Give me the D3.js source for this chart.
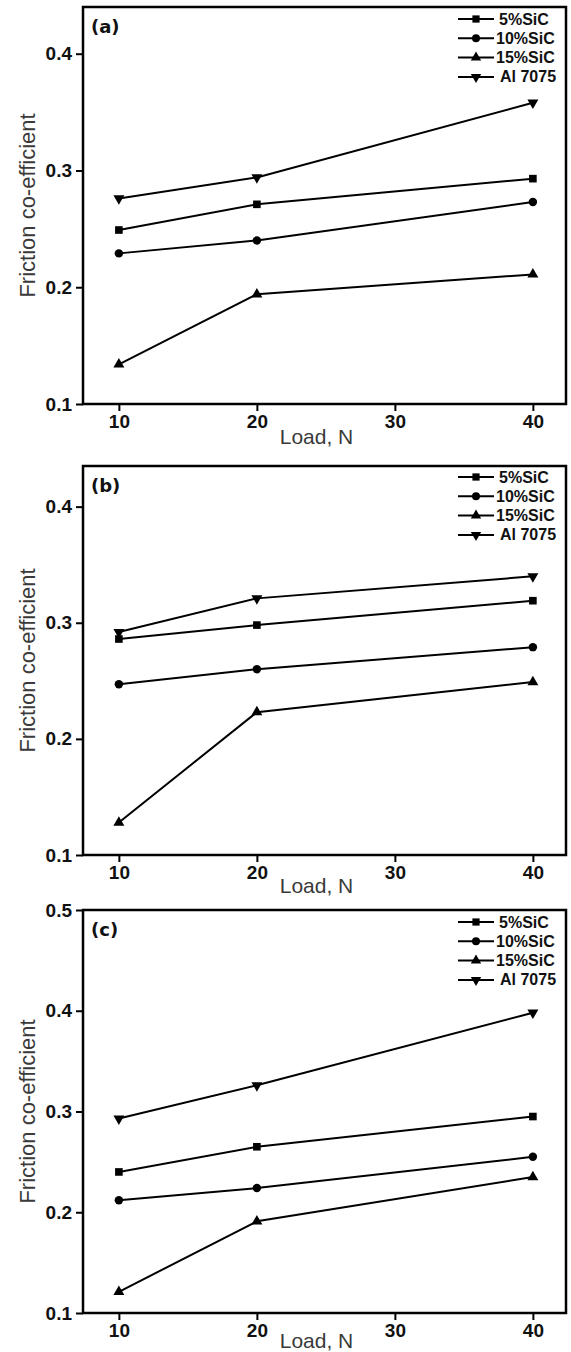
<!DOCTYPE html>
<html>
<head>
<meta charset="utf-8">
<script src="https://cdn.jsdelivr.net/npm/d3@7/dist/d3.min.js"></script>
<style>
  html, body { margin: 0; padding: 0; background: #fff; }
  svg { display: block; }
</style>
</head>
<body>
<script>
// Applied loads (N) at which friction was measured
const loads = [10, 20, 40];
const xTickValues = [10, 20, 30, 40];
const yTicksAB = [0.1, 0.2, 0.3, 0.4];
const yTicksC = [0.1, 0.2, 0.3, 0.4, 0.5];
const seriesNames = ["5%SiC", "10%SiC", "15%SiC", "Al 7075"];
const panelLabels = ["(a)", "(b)", "(c)"];

// Friction coefficient, panel (a)
const sic5A = [0.249, 0.271, 0.293];
const sic10A = [0.229, 0.240, 0.273];
const sic15A = [0.134, 0.194, 0.211];
const al7075A = [0.276, 0.294, 0.358];

// Friction coefficient, panel (b)
const sic5B = [0.286, 0.298, 0.319];
const sic10B = [0.247, 0.260, 0.279];
const sic15B = [0.128, 0.223, 0.249];
const al7075B = [0.292, 0.321, 0.340];

// Friction coefficient, panel (c)
const sic5C = [0.240, 0.265, 0.295];
const sic10C = [0.212, 0.224, 0.255];
const sic15C = [0.121, 0.191, 0.235];
const al7075C = [0.293, 0.326, 0.398];

const W = 571, H = 1352;
const svg = d3.select("body").append("svg").attr("width", W).attr("height", H);

const left = 83, right = 566;
const x = d3.scaleLinear().domain([7.4, 42.4]).range([left, right]);

const panels = [
  { label: panelLabels[0], top: 7, bottom: 404, yMax: 0.44, ticks: yTicksAB,
    series: [sic5A, sic10A, sic15A, al7075A], legendDy: 12, titleDy: 40 },
  { label: panelLabels[1], top: 466, bottom: 855, yMax: 0.435, ticks: yTicksAB,
    series: [sic5B, sic10B, sic15B, al7075B], legendDy: 11, titleDy: 38 },
  { label: panelLabels[2], top: 910, bottom: 1313, yMax: 0.5, ticks: yTicksC,
    series: [sic5C, sic10C, sic15C, al7075C], legendDy: 12, titleDy: 35 }
];

// marker shapes per series: square, circle, up triangle, down triangle
const markerDefs = [
  { type: d3.symbolSquare, size: 58, rot: 0 },
  { type: d3.symbolCircle, size: 56, rot: 0 },
  { type: d3.symbolTriangle, size: 52, rot: 0 },
  { type: d3.symbolTriangle, size: 52, rot: 180 }
];

const tickFont = "'Liberation Sans', Arial, sans-serif";

panels.forEach(p => {
  const y = d3.scaleLinear().domain([0.1, p.yMax]).range([p.bottom, p.top]);
  const g = svg.append("g");

  // frame
  g.append("rect")
    .attr("x", left).attr("y", p.top)
    .attr("width", right - left).attr("height", p.bottom - p.top)
    .attr("fill", "none").attr("stroke", "#000").attr("stroke-width", 2.5);

  // y axis
  const yAxis = d3.axisLeft(y).tickValues(p.ticks).tickFormat(d3.format(".1f"))
    .tickSize(7).tickSizeOuter(0).tickPadding(4);
  const ya = g.append("g").attr("transform", `translate(${left},0)`).call(yAxis);
  ya.select(".domain").remove();
  ya.selectAll(".tick line").attr("stroke", "#000").attr("stroke-width", 2);
  ya.selectAll(".tick text")
    .attr("font-family", tickFont).attr("font-weight", "bold")
    .attr("font-size", 19).attr("fill", "#111");

  // x axis
  const xAxis = d3.axisBottom(x).tickValues(xTickValues).tickFormat(d3.format("d"))
    .tickSize(7).tickSizeOuter(0).tickPadding(4);
  const xa = g.append("g").attr("transform", `translate(0,${p.bottom})`).call(xAxis);
  xa.select(".domain").remove();
  xa.selectAll(".tick line").attr("stroke", "#000").attr("stroke-width", 2);
  xa.selectAll(".tick text")
    .attr("font-family", tickFont).attr("font-weight", "bold")
    .attr("font-size", 19).attr("fill", "#111");

  // axis titles
  g.append("text")
    .attr("x", (left + right) / 2 - 8).attr("y", p.bottom + p.titleDy)
    .attr("text-anchor", "middle")
    .attr("font-family", tickFont).attr("font-size", 21).attr("fill", "#3a3a3a")
    .text("Load, N");
  g.append("text")
    .attr("transform", `translate(35,${(p.top + p.bottom) / 2}) rotate(-90)`)
    .attr("text-anchor", "middle")
    .attr("font-family", tickFont).attr("font-size", 22).attr("fill", "#3a3a3a")
    .text("Friction co-efficient");

  // panel label
  g.append("text")
    .attr("x", left + 8).attr("y", p.top + 26)
    .attr("font-family", "'DejaVu Sans', Verdana, sans-serif").attr("font-weight", "bold")
    .attr("font-size", 18).attr("fill", "#111")
    .text(p.label);

  // series lines and markers
  const line = d3.line().x((d, i) => x(loads[i])).y(d => y(d));
  p.series.forEach((vals, si) => {
    g.append("path").datum(vals)
      .attr("d", line).attr("fill", "none")
      .attr("stroke", "#000").attr("stroke-width", 2);
    const m = markerDefs[si];
    g.selectAll(null).data(vals).enter().append("path")
      .attr("d", d3.symbol().type(m.type).size(m.size))
      .attr("transform", (d, i) => `translate(${x(loads[i])},${y(d)}) rotate(${m.rot})`)
      .attr("fill", "#000");
  });

  // legend
  const lg = g.append("g");
  seriesNames.forEach((name, si) => {
    const ly = p.top + p.legendDy + si * 19.3;
    lg.append("line")
      .attr("x1", 458).attr("x2", 494).attr("y1", ly).attr("y2", ly)
      .attr("stroke", "#000").attr("stroke-width", 2);
    const m = markerDefs[si];
    lg.append("path")
      .attr("d", d3.symbol().type(m.type).size(m.size * 0.9))
      .attr("transform", `translate(476,${ly}) rotate(${m.rot})`)
      .attr("fill", "#000");
    lg.append("text")
      .attr("x", si === 3 ? 500 : (si === 0 ? 499 : 496)).attr("y", ly + 5.5)
      .attr("font-family", tickFont).attr("font-weight", "bold")
      .attr("font-size", 16).attr("fill", "#111")
      .text(name);
  });
});
</script>
</body>
</html>
